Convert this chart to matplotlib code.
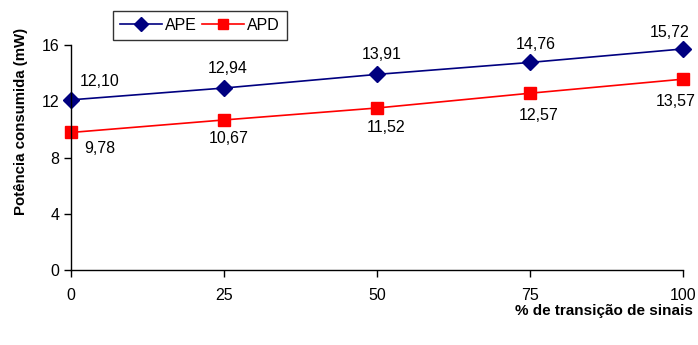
import matplotlib
matplotlib.use("Agg")
import matplotlib.pyplot as plt

plt.rcParams['font.family'] = ['Liberation Sans', 'DejaVu Sans']

transicao = [0, 25, 50, 75, 100]
ape = [12.10, 12.94, 13.91, 14.76, 15.72]
apd = [9.78, 10.67, 11.52, 12.57, 13.57]
x_ticks = [0, 25, 50, 75, 100]
y_ticks = [0, 4, 8, 12, 16]

def fmt(v):
    return f"{v:.2f}".replace('.', ',')

fig = plt.figure(figsize=(6.98, 3.45), dpi=100)
ax = fig.add_axes([71/698, 1 - 270/345, (683 - 71)/698, (270 - 45)/345])

l1, = ax.plot(transicao, ape, color='#000080', marker='D', markersize=8, lw=1.2, label='APE', clip_on=False)
l2, = ax.plot(transicao, apd, color='#FF0000', marker='s', markersize=8, lw=1.2, label='APD', clip_on=False)

ape_off = [(29, 18), (4, 20), (5, 20), (6, 18), (-13, 16)]
apd_off = [(29, -16), (5, -19), (9, -20), (9, -22), (-7, -22)]
for x, v, o in zip(transicao, ape, ape_off):
    ax.annotate(fmt(v), (x, v), xytext=o, textcoords='offset pixels',
                ha='center', va='center', fontsize=11.5)
for x, v, o in zip(transicao, apd, apd_off):
    ax.annotate(fmt(v), (x, v), xytext=o, textcoords='offset pixels',
                ha='center', va='center', fontsize=11.5)

ax.set_xlim(0, 100)
ax.set_ylim(0, 16)
ax.set_xticks(x_ticks)
ax.set_yticks(y_ticks)
ax.tick_params(direction='out', length=5, labelsize=11.5, width=1)
ax.tick_params(axis='x', pad=8)
for s in ['top', 'right']:
    ax.spines[s].set_visible(False)
for s in ['left', 'bottom']:
    ax.spines[s].set_linewidth(1)

fig.text(21/698, 1 - 121/345, 'Potência consumida (mW)', rotation=90, ha='center', va='center',
         fontsize=10.8, fontweight='bold')
fig.text(693/698, 1 - 311/345, '% de transição de sinais', ha='right', va='center',
         fontsize=11, fontweight='bold')

leg = fig.legend(handles=[l1, l2], loc='center', bbox_to_anchor=(200/698, 1 - 25.5/345),
                 ncol=2, numpoints=1, frameon=True, fancybox=False, fontsize=11.5,
                 handlelength=2.6, columnspacing=0.35, handletextpad=0.2, borderpad=0.45,
                 edgecolor='black')
leg.get_frame().set_linewidth(1)
for h in leg.legend_handles:
    h.set_markersize(7)

fig.savefig('out.png', dpi=100)
